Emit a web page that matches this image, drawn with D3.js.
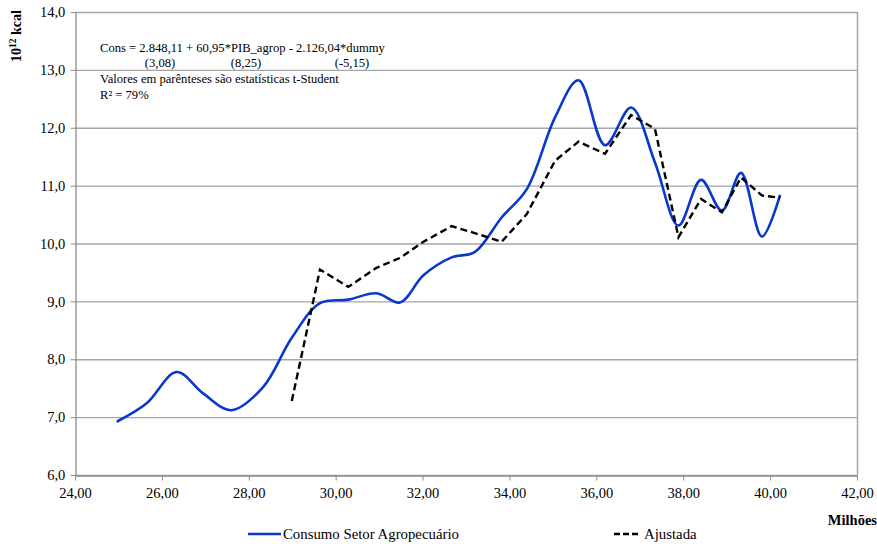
<!DOCTYPE html>
<html><head><meta charset="utf-8">
<script src="https://cdn.jsdelivr.net/npm/d3@7"></script>
<style>body{margin:0;background:#fff}svg{display:block}text{font-family:"Liberation Serif","Times New Roman",serif}</style>
</head><body>
<svg id="c" width="877" height="544"></svg>
<script>
const pibX = [24.96,25.65,26.34,26.95,27.6,28.33,28.99,29.64,30.29,30.94,31.48,32.02,32.67,33.2,33.82,34.4,35.05,35.59,36.2,36.8,37.35,37.89,38.41,38.89,39.33,39.81,40.23];
const consumo = [6.92,7.24,7.78,7.41,7.12,7.52,8.37,8.97,9.03,9.14,8.98,9.45,9.76,9.85,10.45,10.94,12.18,12.82,11.70,12.35,11.40,10.31,11.10,10.57,11.22,10.12,10.84];
const ajustada = [null,null,null,null,null,null,7.28,9.55,9.25,9.58,9.75,10.03,10.30,10.18,10.03,10.51,11.43,11.76,11.55,12.22,11.98,10.11,10.77,10.54,11.14,10.83,10.79];
const xTicks = [24,26,28,30,32,34,36,38,40,42];
const yTicks = [6,7,8,9,10,11,12,13,14];
const seriesNames = ["Consumo Setor Agropecuário","Ajustada"];
const eqLines = ["Cons = 2.848,11 + 60,95*PIB_agrop - 2.126,04*dummy","Valores em parênteses são estatísticas t-Student","R² = 79%"];
const tStats = ["(3,08)","(8,25)","(-5,15)"];

const svg = d3.select("#c");
const L=75,R=857,T=12,B=475;
const x = d3.scaleLinear().domain([24,42]).range([L,R]);
const y = d3.scaleLinear().domain([6,14]).range([B,T]);
const fmt2 = d => d3.format(".2f")(d).replace(".",",");
const fmt1 = d => d3.format(".1f")(d).replace(".",",");

// gridlines
svg.append("g").selectAll("line").data(yTicks).join("line")
  .attr("x1",L).attr("x2",R).attr("y1",d=>y(d)+0.5).attr("y2",d=>y(d)+0.5)
  .attr("stroke","#a6a6a6").attr("stroke-width",1.3);
svg.append("line").attr("x1",R+0.5).attr("x2",R+0.5).attr("y1",T).attr("y2",B)
  .attr("stroke","#a6a6a6").attr("stroke-width",1.5);

// axes
const xa = svg.append("g").attr("transform",`translate(0,${B+0.5})`)
  .call(d3.axisBottom(x).tickValues(xTicks).tickFormat(fmt2).tickSizeInner(5).tickSizeOuter(0));
const ya = svg.append("g").attr("transform",`translate(${L+0.5},0)`)
  .call(d3.axisLeft(y).tickValues(yTicks).tickFormat(fmt1).tickSizeInner(5).tickSizeOuter(0));
[xa,ya].forEach(a=>{
  a.select(".domain").attr("stroke","#8c8c8c").attr("stroke-width",1.3);
  a.selectAll(".tick line").attr("stroke","#8c8c8c");
  a.selectAll("text").attr("font-family","Liberation Serif").attr("font-size",14.5).attr("fill","#000");
});
xa.selectAll("text").attr("dy","1.0em");
ya.selectAll("text").attr("dx","-0.15em");

// lines
const pts1 = pibX.map((v,i)=>[v,consumo[i]]);
const pts2 = pibX.map((v,i)=>[v,ajustada[i]]).filter(d=>d[1]!==null);
svg.append("path").datum(pts1)
  .attr("d",d3.line().x(d=>x(d[0])).y(d=>y(d[1])).curve(d3.curveCatmullRom.alpha(0.5)))
  .attr("fill","none").attr("stroke","#0a37cc").attr("stroke-width",2.6);
svg.append("path").datum(pts2)
  .attr("d",d3.line().x(d=>x(d[0])).y(d=>y(d[1])))
  .attr("fill","none").attr("stroke","#000").attr("stroke-width",2.4).attr("stroke-dasharray","7,4");

// equation annotation
const ann = svg.append("g").attr("font-size",12.6);
ann.append("text").attr("x",100).attr("y",52).text(eqLines[0]);
ann.selectAll(".ts").data(tStats).join("text").attr("class","ts")
  .attr("x",(d,i)=>[160,246,352][i]).attr("y",67).attr("text-anchor","middle").text(d=>d);
ann.append("text").attr("x",100).attr("y",83).text(eqLines[1]);
ann.append("text").attr("x",100).attr("y",99).text(eqLines[2]);

// y title
svg.append("text").attr("transform","translate(21,36) rotate(-90)").attr("text-anchor","middle")
  .attr("font-size",14).attr("font-weight","bold")
  .html('10<tspan dy="-5" font-size="9.5">12</tspan><tspan dy="5"> kcal</tspan>');
// x title
svg.append("text").attr("x",877).attr("y",525).attr("text-anchor","end")
  .attr("font-size",14.5).attr("font-weight","bold").text("Milhões");

// legend
const lg = svg.append("g");
lg.append("line").attr("x1",248).attr("x2",281).attr("y1",534).attr("y2",534).attr("stroke","#0a37cc").attr("stroke-width",2.6);
lg.append("text").attr("x",283).attr("y",539).attr("font-size",14.8).text(seriesNames[0]);
lg.append("line").attr("x1",614).attr("x2",641).attr("y1",534).attr("y2",534).attr("stroke","#000").attr("stroke-width",2.4).attr("stroke-dasharray","6,3");
lg.append("text").attr("x",644).attr("y",539).attr("font-size",14.8).text(seriesNames[1]);
</script>
</body></html>
